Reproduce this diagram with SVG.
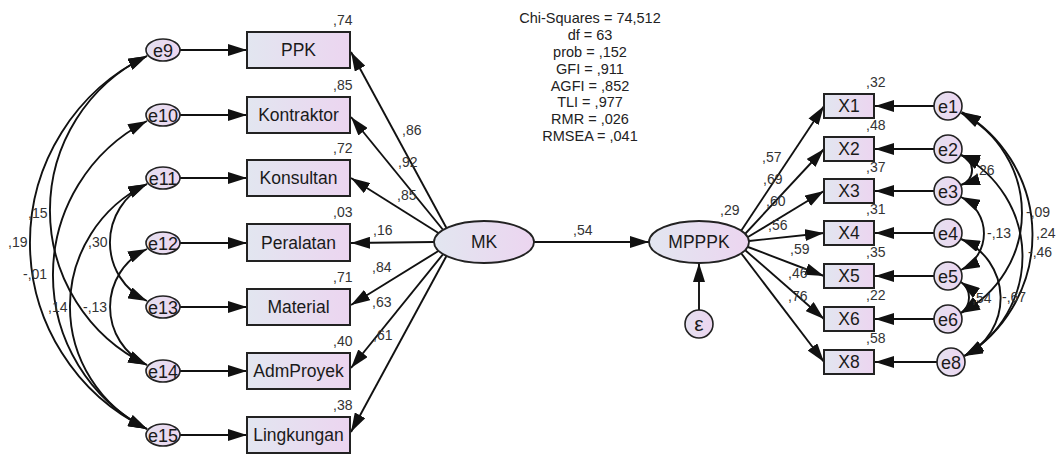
<svg xmlns="http://www.w3.org/2000/svg" width="1057" height="455" viewBox="0 0 1057 455">
<defs>
<linearGradient id="g" x1="0" y1="0" x2="1" y2="0">
<stop offset="0" stop-color="#e2e6f0"/>
<stop offset="1" stop-color="#ecd5f0"/>
</linearGradient>
<linearGradient id="ge" x1="0" y1="0" x2="1" y2="0">
<stop offset="0" stop-color="#e4e0f0"/>
<stop offset="1" stop-color="#edd6f0"/>
</linearGradient>
<marker id="ah" markerUnits="userSpaceOnUse" markerWidth="19" markerHeight="12" viewBox="0 0 19 12" refX="19" refY="6" orient="auto-start-reverse">
<path d="M0,0 L19,6 L0,12 z" fill="#111"/>
</marker>
</defs>
<style>
.box{fill:url(#g);stroke:#222;stroke-width:2}
.lat{fill:url(#g);stroke:#222;stroke-width:1.8}
.err{fill:url(#ge);stroke:#222;stroke-width:1.6}
.nt{font-family:"Liberation Sans",Arial,sans-serif;font-size:17.5px;fill:#1a1a1a;text-anchor:middle}
.et{font-family:"Liberation Sans",Arial,sans-serif;font-size:18px;fill:#1a1a1a;text-anchor:middle}
.num{font-family:"Liberation Sans",Arial,sans-serif;font-size:14px;fill:#333}
.fit{font-family:"Liberation Sans",Arial,sans-serif;font-size:14.5px;fill:#222;text-anchor:middle}
.ar{fill:none;stroke:#111;stroke-width:1.9;marker-end:url(#ah)}
.cov{fill:none;stroke:#111;stroke-width:1.9;marker-start:url(#ah);marker-end:url(#ah)}
</style>
<rect width="1057" height="455" fill="#fff"/>

<g id="connectors">
<path class="ar" d="M180,50 L247,50"/>
<path class="ar" d="M180,115 L247,115"/>
<path class="ar" d="M180,178 L247,178"/>
<path class="ar" d="M180,243 L247,243"/>
<path class="ar" d="M180,307 L247,307"/>
<path class="ar" d="M180,371 L247,371"/>
<path class="ar" d="M180,435 L247,435"/>
<path class="ar" d="M447,229 L351,52"/>
<path class="ar" d="M444,231 L351,117"/>
<path class="ar" d="M440,234 L351,178"/>
<path class="ar" d="M434,242 L351,243"/>
<path class="ar" d="M440,250 L351,305"/>
<path class="ar" d="M444,253 L351,368"/>
<path class="ar" d="M447,255 L351,432"/>
<path class="ar" d="M534,242 L649,242"/>
<path class="ar" d="M699,310 L699,263"/>
<path class="ar" d="M741,231 L824,106"/>
<path class="ar" d="M745,234 L824,149"/>
<path class="ar" d="M748,237 L824,191"/>
<path class="ar" d="M749,241 L824,233"/>
<path class="ar" d="M748,247 L824,276"/>
<path class="ar" d="M745,250 L824,319"/>
<path class="ar" d="M741,253 L824,362"/>
<path class="ar" d="M934,106 L875,106"/>
<path class="ar" d="M934,149 L875,149"/>
<path class="ar" d="M934,191 L875,191"/>
<path class="ar" d="M934,233 L875,233"/>
<path class="ar" d="M934,276 L875,276"/>
<path class="ar" d="M934,319 L875,319"/>
<path class="ar" d="M937,362 L875,362"/>
<path class="cov" d="M147,56 A207.1,207.1 0 0 0 147,429"/>
<path class="cov" d="M147,56 A171.5,171.5 0 0 0 147,365"/>
<path class="cov" d="M147,121 A173.1,173.1 0 0 0 147,429"/>
<path class="cov" d="M147,184 A135.9,135.9 0 0 0 147,429"/>
<path class="cov" d="M147,184 A64.7,64.7 0 0 0 147,301"/>
<path class="cov" d="M147,249 A64,64 0 0 0 147,365"/>
<path class="cov" d="M961,155 A15.7,15.7 0 0 1 961,185"/>
<path class="cov" d="M961,197 A40.5,40.5 0 0 1 961,270"/>
<path class="cov" d="M961,282 A19,19 0 0 1 961,313"/>
<path class="cov" d="M961,239 A64,64 0 0 1 964,356"/>
<path class="cov" d="M961,113 A112.5,112.5 0 0 1 961,313"/>
<path class="cov" d="M961,155 A114.2,114.2 0 0 1 964,356"/>
<path class="cov" d="M962,112 A142.4,142.4 0 0 1 965,356"/>
</g>

<g id="e9"><ellipse class="err" cx="163" cy="50" rx="17" ry="11"/><text class="et" x="163" y="56.5">e9</text></g>
<g id="e10"><ellipse class="err" cx="163" cy="115" rx="17" ry="11"/><text class="et" x="163" y="121.5">e10</text></g>
<g id="e11"><ellipse class="err" cx="163" cy="178" rx="17" ry="11"/><text class="et" x="163" y="184.5">e11</text></g>
<g id="e12"><ellipse class="err" cx="163" cy="243" rx="17" ry="11"/><text class="et" x="163" y="249.5">e12</text></g>
<g id="e13"><ellipse class="err" cx="163" cy="307" rx="17" ry="11"/><text class="et" x="163" y="313.5">e13</text></g>
<g id="e14"><ellipse class="err" cx="163" cy="371" rx="17" ry="11"/><text class="et" x="163" y="377.5">e14</text></g>
<g id="e15"><ellipse class="err" cx="163" cy="435" rx="17" ry="11"/><text class="et" x="163" y="441.5">e15</text></g>

<g id="PPK"><rect class="box" x="247" y="32" width="103" height="36"/><text class="nt" x="298.5" y="56">PPK</text><text class="num" x="333" y="25">,74</text></g>
<g id="Kontraktor"><rect class="box" x="247" y="97" width="103" height="36"/><text class="nt" x="298.5" y="121">Kontraktor</text><text class="num" x="333" y="90">,85</text></g>
<g id="Konsultan"><rect class="box" x="247" y="160" width="103" height="36"/><text class="nt" x="298.5" y="184">Konsultan</text><text class="num" x="333" y="153">,72</text></g>
<g id="Peralatan"><rect class="box" x="247" y="224" width="103" height="37"/><text class="nt" x="298.5" y="249">Peralatan</text><text class="num" x="333" y="217">,03</text></g>
<g id="Material"><rect class="box" x="247" y="289" width="103" height="36"/><text class="nt" x="298.5" y="313">Material</text><text class="num" x="333" y="282">,71</text></g>
<g id="AdmProyek"><rect class="box" x="247" y="353" width="103" height="36"/><text class="nt" x="298.5" y="377">AdmProyek</text><text class="num" x="333" y="346">,40</text></g>
<g id="Lingkungan"><rect class="box" x="247" y="417" width="103" height="36"/><text class="nt" x="298.5" y="441">Lingkungan</text><text class="num" x="333" y="410">,38</text></g>

<g id="MK"><ellipse class="lat" cx="484" cy="242" rx="50" ry="21"/><text class="nt" x="484" y="248">MK</text></g>
<g id="MPPPK"><ellipse class="lat" cx="699" cy="242" rx="50" ry="21"/><text class="nt" x="699" y="248">MPPPK</text><text class="num" x="720" y="215">,29</text></g>
<g id="eps"><circle class="err" cx="699" cy="324" r="14"/><text class="et" x="699" y="331" style="font-size:21px">ε</text></g>

<g id="X1"><rect class="box" x="824" y="94" width="50" height="24"/><text class="nt" x="849" y="112">X1</text><text class="num" x="866" y="87">,32</text></g>
<g id="X2"><rect class="box" x="824" y="137" width="50" height="24"/><text class="nt" x="849" y="155">X2</text><text class="num" x="866" y="130">,48</text></g>
<g id="X3"><rect class="box" x="824" y="179" width="50" height="24"/><text class="nt" x="849" y="197">X3</text><text class="num" x="866" y="172">,37</text></g>
<g id="X4"><rect class="box" x="824" y="221" width="50" height="24"/><text class="nt" x="849" y="239">X4</text><text class="num" x="866" y="214">,31</text></g>
<g id="X5"><rect class="box" x="824" y="264" width="50" height="24"/><text class="nt" x="849" y="282">X5</text><text class="num" x="866" y="257">,35</text></g>
<g id="X6"><rect class="box" x="824" y="307" width="50" height="24"/><text class="nt" x="849" y="325">X6</text><text class="num" x="866" y="300">,22</text></g>
<g id="X8"><rect class="box" x="824" y="350" width="50" height="24"/><text class="nt" x="849" y="368">X8</text><text class="num" x="866" y="343">,58</text></g>

<g id="e1"><circle class="err" cx="948" cy="106" r="14"/><text class="et" x="948" y="112.5">e1</text></g>
<g id="e2"><circle class="err" cx="948" cy="149" r="14"/><text class="et" x="948" y="155.5">e2</text></g>
<g id="e3"><circle class="err" cx="948" cy="191" r="14"/><text class="et" x="948" y="197.5">e3</text></g>
<g id="e4"><circle class="err" cx="948" cy="233" r="14"/><text class="et" x="948" y="239.5">e4</text></g>
<g id="e5"><circle class="err" cx="948" cy="276" r="14"/><text class="et" x="948" y="282.5">e5</text></g>
<g id="e6"><circle class="err" cx="948" cy="319" r="14"/><text class="et" x="948" y="325.5">e6</text></g>
<g id="e8"><circle class="err" cx="951" cy="362" r="14"/><text class="et" x="951" y="368.5">e8</text></g>

<g id="labels">
<text class="num" x="402" y="135">,86</text>
<text class="num" x="398" y="167">,92</text>
<text class="num" x="397" y="200">,85</text>
<text class="num" x="373" y="235">,16</text>
<text class="num" x="372" y="272">,84</text>
<text class="num" x="372" y="307">,63</text>
<text class="num" x="373" y="340">,61</text>
<text class="num" x="573" y="235">,54</text>
<text class="num" x="762" y="162">,57</text>
<text class="num" x="763" y="184">,69</text>
<text class="num" x="766" y="206">,60</text>
<text class="num" x="768" y="230">,56</text>
<text class="num" x="790" y="254">,59</text>
<text class="num" x="788" y="278">,46</text>
<text class="num" x="788" y="301">,76</text>
<text class="num" x="28" y="218">,15</text>
<text class="num" x="8" y="247">,19</text>
<text class="num" x="23" y="279">-,01</text>
<text class="num" x="48" y="312">,14</text>
<text class="num" x="88" y="247">,30</text>
<text class="num" x="83" y="312">-,13</text>
<text class="num" x="975" y="175">,26</text>
<text class="num" x="987" y="238">-,13</text>
<text class="num" x="972" y="303">,54</text>
<text class="num" x="1002" y="302">-,67</text>
<text class="num" x="1026" y="217">-,09</text>
<text class="num" x="1036" y="238">,24</text>
<text class="num" x="1028" y="257">-,46</text>
</g>

<g id="fit">
<text class="fit" x="590" y="23">Chi-Squares = 74,512</text>
<text class="fit" x="590" y="40">df = 63</text>
<text class="fit" x="590" y="57">prob = ,152</text>
<text class="fit" x="590" y="74">GFI = ,911</text>
<text class="fit" x="590" y="91">AGFI = ,852</text>
<text class="fit" x="590" y="107">TLI = ,977</text>
<text class="fit" x="590" y="124">RMR = ,026</text>
<text class="fit" x="590" y="141">RMSEA = ,041</text>
</g>
</svg>
